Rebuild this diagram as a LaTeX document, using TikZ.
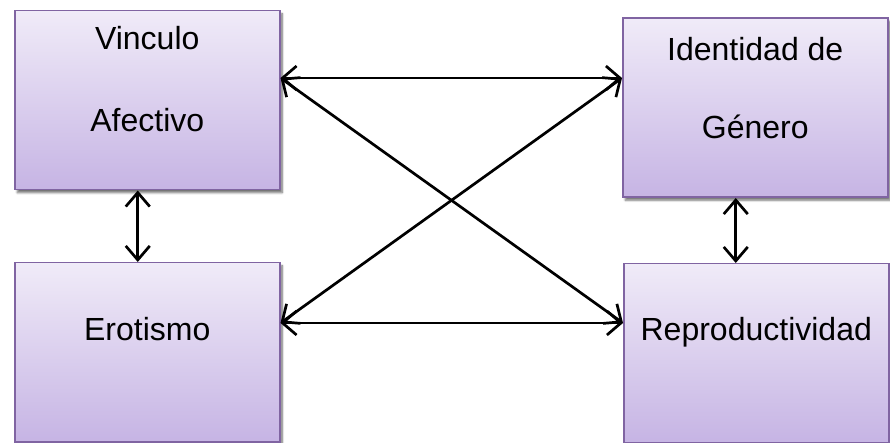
\documentclass[tikz,border=0pt]{standalone}
\usepackage{fontspec}
\setmainfont{Liberation Sans}
\usetikzlibrary{arrows.meta,shadows.blur}

\definecolor{boxtop}{RGB}{240,235,248}
\definecolor{boxbot}{RGB}{198,180,228}
\definecolor{boxedge}{RGB}{128,100,162}

% box contents: top padding, first line, gap, second line
\newcommand{\boxtext}[4]{\parbox[c][179pt][t]{265pt}{\centering\vspace*{#1}\strut #2\\[#3]\strut #4}}

\begin{document}
\begin{tikzpicture}[x=1pt,y=-1pt,
  box/.style={draw=boxedge, line width=1.5pt, top color=boxtop, bottom color=boxbot,
    minimum width=265pt, minimum height=179pt, anchor=north west, inner sep=0pt,
    font=\fontsize{32}{38}\selectfont,
    blur shadow={shadow xshift=2.5pt, shadow yshift=-3pt, shadow blur steps=6, shadow opacity=55}},
  link/.style={line width=2.7pt, black,
    {Straight Barb[length=14pt,width=24pt]}-{Straight Barb[length=14pt,width=24pt]}}]

\useasboundingbox (0,0) rectangle (890,443);

% the four concept boxes
\node[box] (A) at (14,10)    {\boxtext{12.4pt}{Vinculo}{44pt}{Afectivo}};
\node[box] (B) at (622,17.5) {\boxtext{15.2pt}{Identidad de}{40pt}{G\'enero}};
\node[box] (C) at (14,262)   {\boxtext{50.7pt}{Erotismo}{0pt}{}};
\node[box] (D) at (623,263)  {\boxtext{49.7pt}{Reproductividad}{0pt}{}};

% attachment points on the box borders
\coordinate (Ae) at ([yshift=-68pt]A.north east);
\coordinate (Bw) at ([yshift=-60.5pt]B.north west);
\coordinate (Ce) at ([yshift=-61pt]C.north east);
\coordinate (Dw) at ([yshift=-60pt]D.north west);

% two-way links
\draw[link] (Ae) -- (Bw);
\draw[link] (Ce) -- (Dw);
\draw[link] (Ae) -- (Dw);
\draw[link] (Bw) -- (Ce);
\draw[link] ([xshift=-9.5pt]A.south) -- ([xshift=-9.5pt]C.north);
\draw[link] ([xshift=-19.5pt]B.south) -- ([xshift=-20.5pt]D.north);
\end{tikzpicture}
\end{document}
